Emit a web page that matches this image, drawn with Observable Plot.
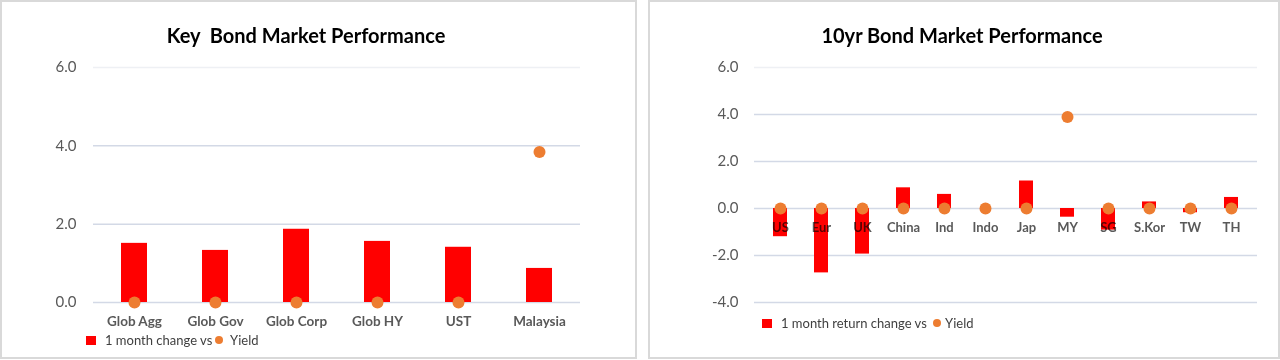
<!DOCTYPE html>
<html>
<head>
<meta charset="utf-8">
<script src="https://cdn.jsdelivr.net/npm/d3@7"></script>
<script src="https://cdn.jsdelivr.net/npm/@observablehq/plot@0.6"></script>
<style>
  html, body { margin: 0; padding: 0; background: #ffffff; }
  body { width: 1280px; height: 360px; position: relative; overflow: hidden; font-family: Lato, "Open Sans", sans-serif; }
  .panel { position: absolute; box-sizing: border-box; border: 2px solid #d9d9d9; background: #fff; }
  .title { position: absolute; font-weight: bold; font-size: 20px; color: #000; white-space: pre; transform: translateX(-50%); }
  .legend { position: absolute; font-size: 13px; color: #404040; white-space: pre; display: flex; align-items: center; }
  .sw-bar { display: inline-block; width: 10px; height: 9px; background: #ff0000; margin-right: 9px; }
  .sw-dot { display: inline-block; width: 8px; height: 8px; border-radius: 50%; background: #ed7d31; margin: 0 4px 0 3px; }
  .chart { position: absolute; }
</style>
</head>
<body>
<script>
// ---- Data: Key Bond Market Performance ----
const keyCategories = ["Glob Agg", "Glob Gov", "Glob Corp", "Glob HY", "UST", "Malaysia"];
const keyChange = [1.51, 1.33, 1.87, 1.56, 1.41, 0.87];
const keyYield = [0, 0, 0, 0, 0, 3.84];
const keyTicks = [0, 2, 4, 6];

// ---- Data: 10yr Bond Market Performance ----
const tenCategories = ["US", "Eur", "UK", "China", "Ind", "Indo", "Jap", "MY", "SG", "S.Kor", "TW", "TH"];
const tenChange = [-1.2, -2.74, -1.94, 0.88, 0.6, 0, 1.17, -0.37, -0.92, 0.28, -0.18, 0.47];
const tenYield = [0, 0, 0, 0, 0, 0, 0, 3.89, 0, 0, 0, 0];
const tenTicks = [-4, -2, 0, 2, 4, 6];

const RED = "#ff0000", ORANGE = "#ed7d31", GRID = "#d3d9e6", TXT = "#595959";
const FONT = "Lato, 'Open Sans', sans-serif";

function addEl(cls, style, html) {
  const d = document.createElement("div");
  d.className = cls;
  Object.assign(d.style, style);
  if (html !== undefined) d.innerHTML = html;
  document.body.appendChild(d);
  return d;
}

// panels
addEl("panel", {left: "0px", top: "0px", width: "637px", height: "359px"});
addEl("panel", {left: "648px", top: "0px", width: "632px", height: "359px"});

function makeChart({cats, change, yld, ticks, domain, width, marginLeft, marginRight, padding, labelDy, labelSize, labelBlend, tickDx}) {
  const rows = cats.map((c, i) => ({cat: c, change: change[i], yld: yld[i]}));
  const marks = [
    Plot.ruleY(ticks, {stroke: d => d === 6 ? "#eef0f4" : GRID, strokeWidth: 1.5}),
    Plot.barY(rows, {x: "cat", y: "change", fill: RED}),
    Plot.text(rows, {x: "cat", y: () => 0, text: "cat", dy: labelDy, fill: TXT, fontWeight: "bold", fontSize: labelSize, mixBlendMode: labelBlend ? "multiply" : null}),
    Plot.dot(rows, {x: "cat", y: "yld", r: 6, fill: ORANGE}),
    Plot.axisY(ticks, {tickSize: 0, tickPadding: 0, dx: tickDx, tickFormat: d => d.toFixed(1), fontSize: 15, fill: TXT, label: null}),
  ];
  return Plot.plot({
    width, height: 358,
    marginTop: 67, marginBottom: 56, marginLeft, marginRight,
    style: {fontFamily: FONT, background: "transparent", overflow: "visible"},
    x: {domain: cats, paddingInner: padding, paddingOuter: padding / 2, axis: null},
    y: {domain, axis: null},
    marks
  });
}

const left = makeChart({
  cats: keyCategories, change: keyChange, yld: keyYield, ticks: keyTicks,
  domain: [0, 6], width: 636, marginLeft: 93, marginRight: 56, padding: 0.685,
  labelDy: 19, labelSize: 13.5, labelBlend: false, tickDx: -17
});
left.classList.add("chart");
left.style.left = "0px"; left.style.top = "0px";
document.body.appendChild(left);

const right = makeChart({
  cats: tenCategories, change: tenChange, yld: tenYield, ticks: tenTicks,
  domain: [-4, 6], width: 629, marginLeft: 105, marginRight: 21, padding: 0.66,
  labelDy: 19, labelSize: 13, labelBlend: true, tickDx: -16
});
right.classList.add("chart");
right.style.left = "649px"; right.style.top = "0px";
document.body.appendChild(right);

// titles
addEl("title", {left: "306px", top: "23px"}, "Key  Bond Market Performance");
addEl("title", {left: "962px", top: "23px"}, "10yr Bond Market Performance");

// legends
addEl("legend", {left: "86px", top: "332px"}, '<span class="sw-bar"></span>1 month change vs<span class="sw-dot"></span> Yield');
addEl("legend", {left: "762px", top: "315px"}, '<span class="sw-bar"></span>1 month return change vs <span class="sw-dot"></span>Yield');
</script>
</body>
</html>
